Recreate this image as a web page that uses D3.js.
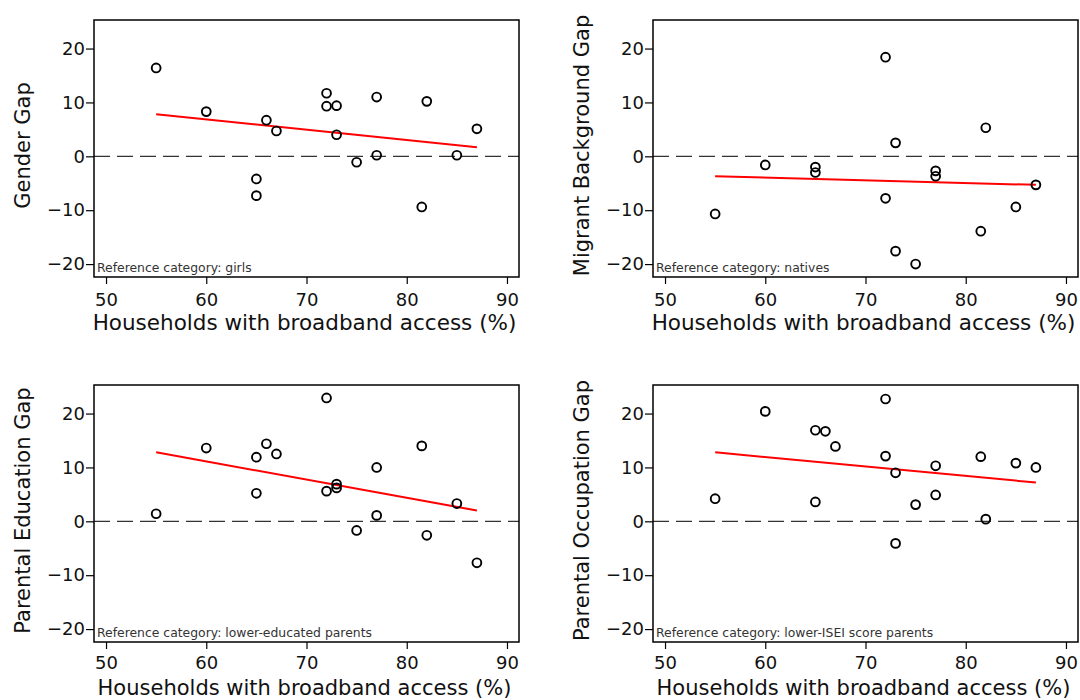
<!DOCTYPE html>
<html>
<head>
<meta charset="utf-8">
<script src="https://cdn.jsdelivr.net/npm/d3@7"></script>
<style>
  body { margin: 0; background: #fff; }
  svg { display: block; font-family: "DejaVu Sans", Verdana, sans-serif; }
</style>
</head>
<body>
<div id="chart"></div>
<script>
// broadband access (%) per country, same countries in every panel
var xAll = [55, 60, 65, 65, 66, 67, 72, 72, 73, 73, 75, 77, 77, 81.5, 82, 85, 87];
var xMig = [55, 60, 65, 65, 72, 72, 73, 73, 75, 77, 77, 81.5, 82, 85, 87];

var genderGap    = [16.4, 8.3, -4.2, -7.3, 6.7, 4.7, 11.7, 9.3, 9.4, 4.0, -1.1, 11.0, 0.2, -9.4, 10.2, 0.2, 5.1];
var migrantGap   = [-10.7, -1.6, -2.0, -3.0, 18.4, -7.8, 2.5, -17.6, -20.0, -2.7, -3.7, -13.9, 5.3, -9.4, -5.3];
var educationGap = [1.4, 13.6, 11.9, 5.2, 14.4, 12.5, 22.9, 5.6, 6.9, 6.2, -1.7, 10.0, 1.1, 14.0, -2.6, 3.3, -7.7];
var occupationGap = [4.2, 20.4, 16.9, 3.6, 16.7, 13.9, 22.7, 12.1, 9.0, -4.1, 3.1, 10.3, 4.9, 12.0, 0.4, 10.8, 10.0];

// fitted line (value at x=55 and x=87)
var fitX = [55, 87];
var fitGender = [7.8, 1.7];
var fitMigrant = [-3.7, -5.3];
var fitEducation = [12.8, 2.0];
var fitOccupation = [12.8, 7.2];

var xTicks = [50, 60, 70, 80, 90];
var yTicks = [-20, -10, 0, 10, 20];

var yTitles = ["Gender Gap", "Migrant Background Gap", "Parental Education Gap", "Parental Occupation Gap"];
var refNotes = ["Reference category: girls", "Reference category: natives",
                "Reference category: lower-educated parents", "Reference category: lower-ISEI score parents"];
var xTitle = "Households with broadband access (%)";

var panels = [
  {x: xAll, y: genderGap, fit: fitGender, left: 94, top: 20},
  {x: xMig, y: migrantGap, fit: fitMigrant, left: 653, top: 20},
  {x: xAll, y: educationGap, fit: fitEducation, left: 94, top: 385},
  {x: xAll, y: occupationGap, fit: fitOccupation, left: 653, top: 385}
];

const W = 425, H = 257;

const svg = d3.select("#chart").append("svg")
  .attr("width", 1080).attr("height", 700);

panels.forEach(function(p, i) {
  const bottomRow = i >= 2;
  const g = svg.append("g").attr("transform", "translate(" + p.left + "," + p.top + ")");

  const x = d3.scaleLinear().domain([48.8, 91.2]).range([0, W]);
  const y = d3.scaleLinear().domain([-22.4, 25.3]).range([H, 0]);

  // dashed zero line
  g.append("line")
    .attr("x1", 0).attr("x2", W)
    .attr("y1", y(0)).attr("y2", y(0))
    .attr("stroke", "#333").attr("stroke-width", 1.2)
    .attr("stroke-dasharray", "16,7");

  // fitted line
  g.append("line")
    .attr("x1", x(fitX[0])).attr("y1", y(p.fit[0]))
    .attr("x2", x(fitX[1])).attr("y2", y(p.fit[1]))
    .attr("stroke", "#ff0000").attr("stroke-width", 2);

  const pts = p.x.map((v, j) => [v, p.y[j]]);
  g.selectAll("circle").data(pts).join("circle")
    .attr("cx", d => x(d[0])).attr("cy", d => y(d[1]))
    .attr("r", 4.4)
    .attr("fill", "none").attr("stroke", "#000").attr("stroke-width", 1.9);

  // box
  g.append("rect").attr("width", W).attr("height", H)
    .attr("fill", "none").attr("stroke", "#000").attr("stroke-width", 1.5);

  const xAxis = g.append("g").attr("transform", "translate(0," + H + ")")
    .call(d3.axisBottom(x).tickValues(xTicks).tickSize(7).tickPadding(bottomRow ? 7 : 9));
  const yAxis = g.append("g")
    .call(d3.axisLeft(y).tickValues(yTicks).tickSize(8).tickPadding(1));
  [xAxis, yAxis].forEach(a => {
    a.select(".domain").remove();
    a.selectAll("line").attr("stroke", "#000").attr("stroke-width", 1.2);
    a.selectAll("text").attr("fill", "#111").style("font-size", "18px")
      .style("font-family", "DejaVu Sans, Verdana, sans-serif");
  });

  g.append("text")
    .attr("x", W / 2 - 2).attr("y", H + (bottomRow ? 53 : 53))
    .attr("text-anchor", "middle")
    .attr("fill", "#111").style("font-size", bottomRow ? "21px" : "21.5px")
    .text(xTitle);

  g.append("text")
    .attr("transform", "translate(-64," + (H / 2 - 3) + ") rotate(-90)")
    .attr("text-anchor", "middle")
    .attr("fill", "#111").style("font-size", "21px")
    .text(yTitles[i]);

  g.append("text")
    .attr("x", 3).attr("y", H - 5)
    .attr("fill", "#333").style("font-size", "12.4px")
    .text(refNotes[i]);
});
</script>
</body>
</html>
